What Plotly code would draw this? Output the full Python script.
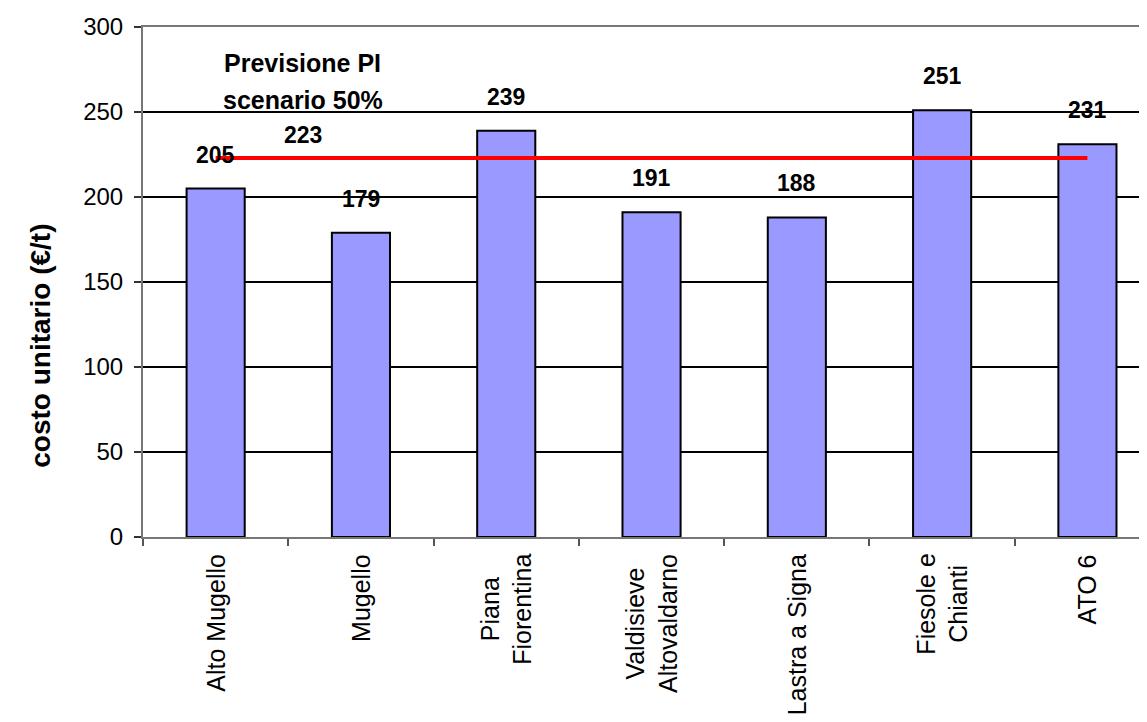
import plotly.graph_objects as go

categories = ["Alto Mugello", "Mugello", "Piana<br>Fiorentina", "Valdisieve<br>Altovaldarno",
              "Lastra a Signa", "Fiesole e<br>Chianti", "ATO 6"]
costs = [205, 179, 239, 191, 188, 251, 231]
forecast = [223, 223, 223, 223, 223, 223, 223]
forecast_label = "223"
forecast_title_lines = ["Previsione PI", "scenario 50%"]
y_ticks = [0, 50, 100, 150, 200, 250, 300]

FONT = "Arial, 'Liberation Sans', sans-serif"

fig = go.Figure()
fig.add_trace(go.Bar(
    x=categories, y=costs, width=0.4,
    marker=dict(color="#9999FF", line=dict(color="black", width=2)),
    showlegend=False, hoverinfo="x+y",
))
fig.add_trace(go.Scatter(
    x=categories, y=forecast, mode="lines",
    line=dict(color="#FF0000", width=4), showlegend=False,
))

annotations = []
# value labels above bars
for c, v in zip(categories, costs):
    annotations.append(dict(x=c, y=v, text="<b>%d</b>" % v, showarrow=False, yanchor="bottom",
                            yshift=19, font=dict(family=FONT, size=23, color="black")))
# category labels (rotated, centered lines)
for c in categories:
    annotations.append(dict(x=c, y=0, xref="x", yref="paper", text=c, textangle=-90,
                            showarrow=False, yanchor="top", xanchor="center", align="center",
                            yshift=-15, font=dict(family=FONT, size=25, color="black")))
annotations.append(dict(x=0.6, y=236.5, xref="x", yref="y", text="<b>%s</b>" % forecast_label,
                        showarrow=False, font=dict(family=FONT, size=23, color="black")))
for line_text, yv in zip(forecast_title_lines, [278.8, 257.0]):
    annotations.append(dict(x=0.6, y=yv, xref="x", yref="y", text="<b>%s</b>" % line_text,
                            showarrow=False, font=dict(family=FONT, size=25, color="black")))
annotations.append(dict(x=-0.1016, y=0.375, xref="paper", yref="paper",
                        xanchor="center", yanchor="middle",
                        text="<b>costo unitario (€/t)</b>", textangle=-90, showarrow=False,
                        font=dict(family=FONT, size=28, color="black")))

fig.update_layout(
    width=1139, height=714,
    margin=dict(l=135, r=0, t=19, b=185, pad=0),
    paper_bgcolor="white", plot_bgcolor="white",
    font=dict(family=FONT, color="black"),
    annotations=annotations,
)
fig.update_xaxes(
    type="category", range=[-0.5, 6.41], tickson="boundaries",
    ticks="outside", ticklen=7, tickwidth=1.5, tickcolor="#555555",
    showticklabels=False,
    showline=True, linecolor="#777777", linewidth=2, mirror=True,
    showgrid=False, fixedrange=True,
)
fig.update_yaxes(
    range=[0, 300], tickvals=y_ticks,
    ticks="outside", ticklen=7, tickwidth=2, tickcolor="#333333",
    tickfont=dict(family=FONT, size=24, color="black"),
    ticklabelstandoff=6,
    showline=True, linecolor="#777777", linewidth=2,
    showgrid=True, gridcolor="black", gridwidth=2,
    zeroline=False,
)

fig.write_html("out.html")
